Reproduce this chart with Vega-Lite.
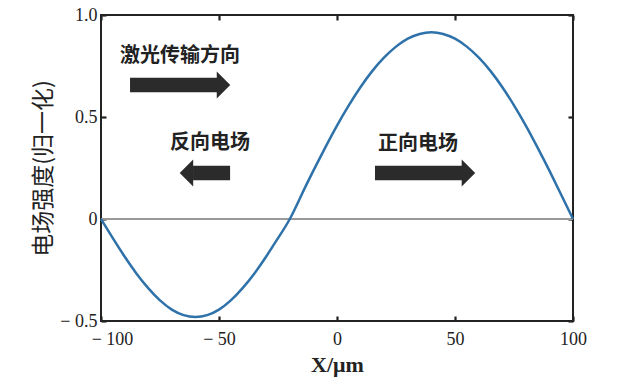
{
  "$schema": "https://vega.github.io/schema/vega-lite/v6.json",
  "width": 472,
  "height": 306,
  "autosize": {"type": "none"},
  "padding": {"left": 101, "top": 15, "right": 57, "bottom": 61},
  "background": "white",
  "config": {
    "view": {"stroke": "#222222", "strokeWidth": 2},
    "axis": {
      "grid": false,
      "domain": false,
      "ticks": true,
      "tickColor": "#222222",
      "tickWidth": 2.2,
      "tickSize": 5,
      "offset": -5,
      "labelFont": "Liberation Serif",
      "labelFontSize": 18,
      "labelColor": "#222222",
      "titleFont": "Noto Sans CJK SC",
      "titleFontWeight": "normal",
      "titleColor": "#222222"
    }
  },
  "resolve": {"axis": {"x": "independent", "y": "independent"}},
  "datasets": {
    "curve": [
      {"x": -100, "y": 0}, {"x": -95, "y": -0.094}, {"x": -90, "y": -0.184}, {"x": -85, "y": -0.267},
      {"x": -80, "y": -0.339}, {"x": -75, "y": -0.399}, {"x": -70, "y": -0.444}, {"x": -65, "y": -0.471},
      {"x": -60, "y": -0.48}, {"x": -55, "y": -0.471}, {"x": -50, "y": -0.444}, {"x": -45, "y": -0.399},
      {"x": -40, "y": -0.339}, {"x": -35, "y": -0.267}, {"x": -30, "y": -0.184}, {"x": -25, "y": -0.094},
      {"x": -20, "y": 0}, {"x": -15, "y": 0.119}, {"x": -10, "y": 0.237}, {"x": -5, "y": 0.35},
      {"x": 0, "y": 0.458}, {"x": 5, "y": 0.557}, {"x": 10, "y": 0.647}, {"x": 15, "y": 0.726},
      {"x": 20, "y": 0.792}, {"x": 25, "y": 0.845}, {"x": 30, "y": 0.884}, {"x": 35, "y": 0.907},
      {"x": 40, "y": 0.915}, {"x": 45, "y": 0.907}, {"x": 50, "y": 0.884}, {"x": 55, "y": 0.845},
      {"x": 60, "y": 0.792}, {"x": 65, "y": 0.726}, {"x": 70, "y": 0.647}, {"x": 75, "y": 0.557},
      {"x": 80, "y": 0.458}, {"x": 85, "y": 0.35}, {"x": 90, "y": 0.237}, {"x": 95, "y": 0.119},
      {"x": 100, "y": 0}
    ],
    "arrows": [
      {"tail": -87.7, "base": -50.8, "head": -48.1, "y": 0.657, "dir": "right"},
      {"tail": -45.3, "base": -61.0, "head": -63.8, "y": 0.225, "dir": "left"},
      {"tail": 16.1, "base": 53.0, "head": 55.7, "y": 0.225, "dir": "right"}
    ],
    "labels": [
      {"x": -66.5, "y": 0.8, "text": "激光传输方向"},
      {"x": -53.8, "y": 0.375, "text": "反向电场"},
      {"x": 34.3, "y": 0.37, "text": "正向电场"}
    ],
    "zero": [{"y": 0}]
  },
  "layer": [
    {
      "data": {"name": "zero"},
      "mark": {"type": "rule", "color": "#999999", "strokeWidth": 2.2},
      "encoding": {
        "y": {"field": "y", "type": "quantitative", "axis": null}
      }
    },
    {
      "data": {"name": "curve"},
      "mark": {"type": "line", "color": "#2f72aa", "strokeWidth": 2.5, "interpolate": "natural"},
      "encoding": {
        "x": {
          "field": "x", "type": "quantitative",
          "scale": {"domain": [-100, 100], "nice": false, "zero": false},
          "axis": {
            "values": [-100, -50, 0, 50, 100],
            "labelExpr": "replace(format(datum.value, 'd'), '−', '− ')",
            "labelFlush": false,
            "labelOffset": {"expr": "datum.value == -100 ? 11 : 0"},
            "labelPadding": 9,
            "title": "X/μm",
            "titleFont": "Liberation Serif",
            "titleFontSize": 22,
            "titleFontWeight": "bold",
            "titlePadding": 6
          }
        },
        "y": {
          "field": "y", "type": "quantitative",
          "scale": {"domain": [-0.5, 1], "nice": false, "zero": false},
          "axis": {
            "values": [-0.5, 0, 0.5, 1],
            "labelExpr": "datum.value == 0 ? '0' : replace(format(datum.value, '.1f'), '−', '− ')",
            "labelPadding": 4,
            "title": "电场强度(归一化)",
            "titleFontSize": 23,
            "titlePadding": 4
          }
        }
      }
    },
    {
      "data": {"name": "arrows"},
      "mark": {"type": "rule", "color": "#2b2b2b", "strokeWidth": 14.5, "strokeCap": "butt"},
      "encoding": {
        "x": {"field": "tail", "type": "quantitative",
          "axis": {"orient": "top", "values": [-100, -50, 0, 50, 100], "labels": false, "title": null}},
        "x2": {"field": "base"},
        "y": {"field": "y", "type": "quantitative",
          "axis": {"orient": "right", "values": [-0.5, 0, 0.5, 1], "labels": false, "title": null}}
      }
    },
    {
      "data": {"name": "arrows"},
      "mark": {"type": "point", "filled": true, "color": "#2b2b2b", "opacity": 1, "size": 729, "strokeWidth": 0},
      "encoding": {
        "x": {"field": "head", "type": "quantitative", "axis": null},
        "y": {"field": "y", "type": "quantitative", "axis": null},
        "shape": {
          "field": "dir", "type": "nominal", "legend": null,
          "scale": {"domain": ["right", "left"], "range": ["M -0.5 -1 L 0.5 0 L -0.5 1 Z", "M 0.5 -1 L -0.5 0 L 0.5 1 Z"]}
        }
      }
    },
    {
      "data": {"name": "labels"},
      "mark": {"type": "text", "font": "Noto Sans CJK SC", "fontSize": 20, "fontWeight": "bold", "color": "#222222", "align": "center", "baseline": "middle"},
      "encoding": {
        "x": {"field": "x", "type": "quantitative", "axis": null},
        "y": {"field": "y", "type": "quantitative", "axis": null},
        "text": {"field": "text"}
      }
    }
  ]
}
